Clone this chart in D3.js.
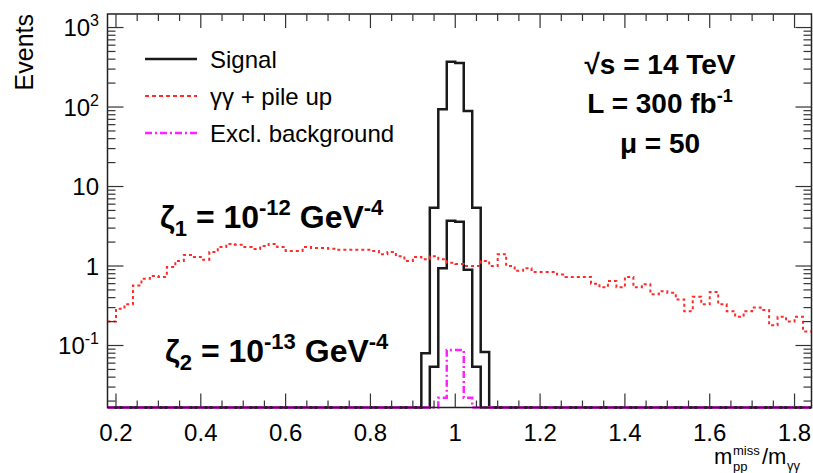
<!DOCTYPE html>
<html>
<head>
<meta charset="utf-8">
<script src="https://cdn.jsdelivr.net/npm/d3@7"></script>
<style>
  body { margin: 0; background: #fff; }
  text { font-family: "Liberation Sans", Arial, Helvetica, sans-serif; fill: #000; }
</style>
</head>
<body>
<div id="chart"></div>
<script>
// histogram binning (bin width 0.02 from 0.18 to 1.84)
const binLow = 0.18;
const binWidth = 0.02;

// gamma gamma + pile up background, one value per bin
const bkgValues = [
  0.20, 0.29, 0.33, 0.57, 0.69, 0.75, 0.73, 0.97, 1.16, 1.38,
  1.30, 1.20, 1.50, 1.73, 1.89, 1.85, 1.73, 1.64, 1.78, 1.89,
  1.73, 1.55, 1.55, 1.73, 1.68, 1.68, 1.65, 1.60, 1.60, 1.60,
  1.60, 1.55, 1.41, 1.50, 1.33, 1.16, 1.30, 1.22, 1.33, 1.22,
  1.10, 1.06, 1.00, 1.00, 1.16, 1.00, 1.41, 1.00, 0.87, 0.94,
  0.84, 0.84, 0.84, 0.78, 0.73, 0.73, 0.73, 0.60, 0.54, 0.65,
  0.54, 0.73, 0.54, 0.59, 0.44, 0.48, 0.46, 0.38, 0.27, 0.41,
  0.33, 0.47, 0.33, 0.27, 0.23, 0.27, 0.30, 0.28, 0.18, 0.23,
  0.20, 0.23, 0.15
];

// signal, bins starting at 0.92
const signalStart = 0.92;
const signalZeta1 = [0.080, 5.4, 94, 371, 357, 89, 5.4, 0.083];
const signalZeta2 = [0.0008, 0.054, 0.94, 3.7, 3.6, 0.9, 0.054, 0.0008];

// exclusive background, bins starting at 0.96
const exclStart = 0.96;
const exclValues = [0.022, 0.088, 0.088, 0.022];

const xTickValues = [0.2, 0.4, 0.6, 0.8, 1.0, 1.2, 1.4, 1.6, 1.8];
const xTickLabels = ['0.2', '0.4', '0.6', '0.8', '1', '1.2', '1.4', '1.6', '1.8'];
const yTickValues = [0.1, 1, 10, 100, 1000];
const yTickBase = ['10', '1', '10', '10', '10'];
const yTickExp = ['-1', '', '', '2', '3'];

const legendLabels = ['Signal', '\u03b3\u03b3 + pile up', 'Excl. background'];

const width = 813, height = 473;
const nBins = bkgValues.length;
const yMin = 0.0166, yMax = 1480;

const svg = d3.select('#chart').append('svg')
  .attr('width', width)
  .attr('height', height);

const x = d3.scaleLinear()
  .domain([binLow, binLow + nBins * binWidth])
  .range([107.5, 811.5]);

const y = d3.scaleLog()
  .domain([yMin, yMax])
  .range([407.5, 14]);

const x0 = x.range()[0], x1 = x.range()[1];
const y0 = y.range()[0], y1 = y.range()[1];

// clip to frame (a little slack at the bottom so zero bins show on the axis)
svg.append('defs').append('clipPath').attr('id', 'frame')
  .append('rect')
  .attr('x', x0).attr('y', y1)
  .attr('width', x1 - x0).attr('height', y0 - y1 + 2);

function fullBins(start, vals) {
  const off = Math.round((start - binLow) / binWidth);
  return d3.range(nBins).map(i => (i >= off && i < off + vals.length) ? vals[i - off] : 0);
}

function histPath(vals) {
  const pts = vals.map((v, i) => [binLow + i * binWidth, v]);
  pts.push([binLow + nBins * binWidth, vals[vals.length - 1]]);
  return d3.line()
    .x(d => x(d[0]))
    .y(d => y(Math.max(d[1], yMin)))
    .curve(d3.curveStepAfter)(pts);
}

const plot = svg.append('g').attr('clip-path', 'url(#frame)');

// signal histograms
[signalZeta1, signalZeta2].forEach(s => {
  plot.append('path')
    .attr('d', histPath(fullBins(signalStart, s)))
    .attr('fill', 'none')
    .attr('stroke', '#1a1a1a')
    .attr('stroke-width', 2.5);
});

// background
plot.append('path')
  .attr('d', histPath(bkgValues))
  .attr('fill', 'none')
  .attr('stroke', '#ff2a2a')
  .attr('stroke-width', 2)
  .attr('stroke-dasharray', '3,3');

// frame
svg.append('rect')
  .attr('x', x0).attr('y', y1)
  .attr('width', x1 - x0).attr('height', y0 - y1)
  .attr('fill', 'none')
  .attr('stroke', '#222')
  .attr('stroke-width', 1.5);

// exclusive background (drawn over the bottom frame)
plot.append('path')
  .attr('d', histPath(fullBins(exclStart, exclValues)))
  .attr('fill', 'none')
  .attr('stroke', '#ff22ff')
  .attr('stroke-width', 2.5)
  .attr('stroke-dasharray', '7,3,2,3');

// ticks
const ticks = svg.append('g').attr('stroke', '#333').attr('stroke-width', 1.2);
const xMinor = d3.range(0.2, 1.84, 0.05).filter(v => v <= x.domain()[1]);
xMinor.forEach(v => {
  const major = xTickValues.some(t => Math.abs(t - v) < 1e-6);
  const len = major ? 14 : 7;
  ticks.append('line').attr('x1', x(v)).attr('x2', x(v)).attr('y1', y0).attr('y2', y0 - len);
  ticks.append('line').attr('x1', x(v)).attr('x2', x(v)).attr('y1', y1).attr('y2', y1 + len);
});
const yAll = [];
for (let e = -2; e <= 3; e++) {
  for (let k = 1; k <= 9; k++) {
    const v = k * Math.pow(10, e);
    if (v >= yMin && v <= yMax) yAll.push({ v, major: k === 1 });
  }
}
yAll.forEach(d => {
  const len = d.major ? 16 : 8;
  ticks.append('line').attr('x1', x0).attr('x2', x0 + len).attr('y1', y(d.v)).attr('y2', y(d.v));
  ticks.append('line').attr('x1', x1).attr('x2', x1 - len).attr('y1', y(d.v)).attr('y2', y(d.v));
});

// x tick labels
svg.append('g').selectAll('text')
  .data(xTickValues)
  .enter().append('text')
  .attr('x', d => x(d))
  .attr('y', 441)
  .attr('text-anchor', 'middle')
  .attr('font-size', 24)
  .text((d, i) => xTickLabels[i]);

// y tick labels
const yl = svg.append('g').selectAll('text')
  .data(yTickValues)
  .enter().append('text')
  .attr('x', 99)
  .attr('y', d => y(d) + 8.5)
  .attr('text-anchor', 'end')
  .attr('font-size', 24);
yl.append('tspan').text((d, i) => yTickBase[i]);
yl.append('tspan')
  .attr('dy', -10)
  .attr('font-size', 16)
  .text((d, i) => yTickExp[i]);

// axis titles
svg.append('text')
  .attr('transform', 'translate(33,14) rotate(-90)')
  .attr('text-anchor', 'end')
  .attr('font-size', 25)
  .text('Events');

const xt = svg.append('g').attr('font-size', 22);
xt.append('text').attr('x', 714).attr('y', 464).text('m');
xt.append('text').attr('x', 733).attr('y', 455).attr('font-size', 13).text('miss');
xt.append('text').attr('x', 733).attr('y', 471).attr('font-size', 13).text('pp');
xt.append('text').attr('x', 762).attr('y', 464).text('/m');
xt.append('text').attr('x', 787).attr('y', 470).attr('font-size', 13).text('\u03b3\u03b3');

// legend
const legendY = [59, 96, 133];
const legendStyles = [
  { stroke: '#1a1a1a', width: 2.5, dash: null },
  { stroke: '#ff2a2a', width: 2, dash: '4,3' },
  { stroke: '#ff22ff', width: 2.5, dash: '7,3,2,3' }
];
legendLabels.forEach((lab, i) => {
  svg.append('line')
    .attr('x1', 145).attr('x2', 197)
    .attr('y1', legendY[i]).attr('y2', legendY[i])
    .attr('stroke', legendStyles[i].stroke)
    .attr('stroke-width', legendStyles[i].width)
    .attr('stroke-dasharray', legendStyles[i].dash);
  svg.append('text')
    .attr('x', 210)
    .attr('y', legendY[i] + 8.5)
    .attr('font-size', 24)
    .text(lab);
});

// run conditions
const info = svg.append('g').attr('font-size', 28).attr('font-weight', 'bold').attr('text-anchor', 'middle');
info.append('text').attr('x', 660).attr('y', 74).text('\u221as = 14 TeV');
const lumi = info.append('text').attr('x', 660).attr('y', 113);
lumi.append('tspan').text('L = 300 fb');
lumi.append('tspan').attr('dy', -11).attr('font-size', 18).text('-1');
info.append('text').attr('x', 660).attr('y', 153).text('\u03bc = 50');

// coupling labels
function zetaLabel(xp, yp, sub, exp) {
  const t = svg.append('text')
    .attr('x', xp).attr('y', yp)
    .attr('font-size', 32)
    .attr('font-weight', 'bold');
  t.append('tspan').text('\u03b6');
  t.append('tspan').attr('dy', 8).attr('font-size', 22).text(sub);
  t.append('tspan').attr('dy', -8).text(' = 10');
  t.append('tspan').attr('dy', -13).attr('font-size', 22).text(exp);
  t.append('tspan').attr('dy', 13).text(' GeV');
  t.append('tspan').attr('dy', -13).attr('font-size', 22).text('-4');
}
zetaLabel(160, 228, '1', '-12');
zetaLabel(165, 362, '2', '-13');
</script>
</body>
</html>
